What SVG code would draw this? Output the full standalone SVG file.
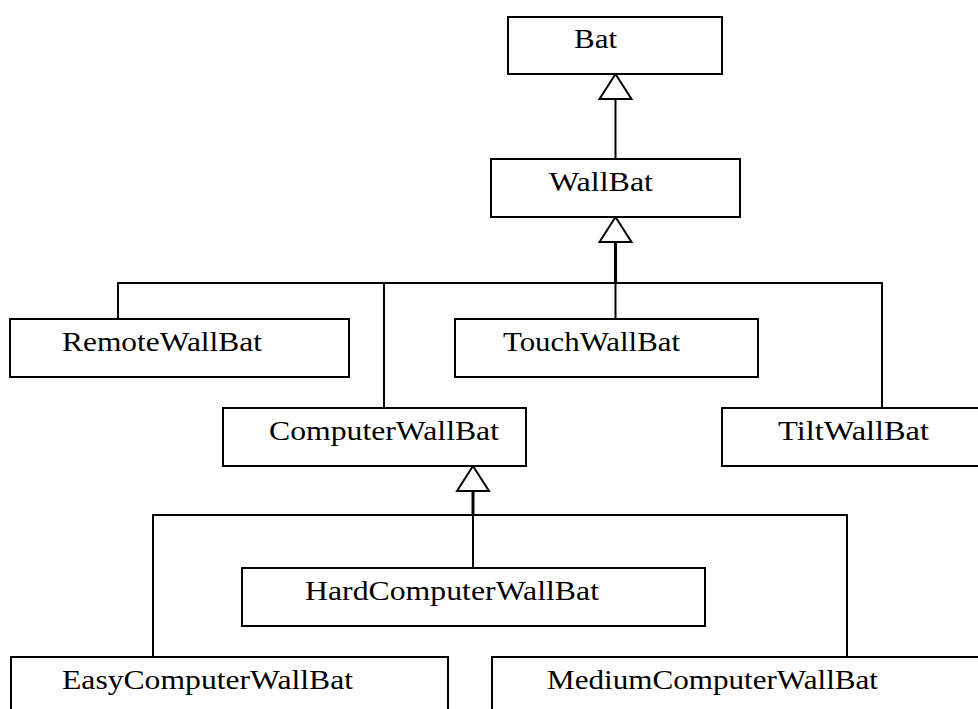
<svg xmlns="http://www.w3.org/2000/svg" width="978" height="709" viewBox="0 0 978 709">
<style>
.box{fill:#fff;stroke:#000;stroke-width:2}
.lbl{font-family:"Liberation Serif","DejaVu Serif",serif;font-size:28px;fill:#000}
.ln{fill:none;stroke:#000;stroke-width:2}
.trunk{fill:none;stroke:#000;stroke-width:3}
.tri{fill:#fff;stroke:#000;stroke-width:2;stroke-linejoin:miter}
</style>
<rect width="978" height="709" fill="#fff"/>
<g id="connectors">
<line class="ln" x1="615.5" y1="99" x2="615.5" y2="159"/>
<polygon class="tri" points="615.5,74 599.5,99 631.5,99"/>
<line class="trunk" x1="615.5" y1="242" x2="615.5" y2="283"/>
<polyline class="ln" points="118,319 118,283 882,283 882,408"/>
<line class="ln" x1="384" y1="283" x2="384" y2="408"/>
<line class="ln" x1="615.5" y1="283" x2="615.5" y2="319"/>
<polygon class="tri" points="615.5,217 599.5,242 631.5,242"/>
<line class="trunk" x1="473" y1="491" x2="473" y2="515"/>
<polyline class="ln" points="153,657 153,515 847,515 847,657"/>
<line class="ln" x1="473" y1="515" x2="473" y2="568"/>
<polygon class="tri" points="473,466 457,491 489,491"/>
</g>
<g id="Bat">
<rect class="box" x="508" y="17" width="214" height="57"/>
<text class="lbl" x="574" y="48" textLength="43" lengthAdjust="spacingAndGlyphs">Bat</text>
</g>
<g id="WallBat">
<rect class="box" x="491" y="159" width="249" height="58"/>
<text class="lbl" x="549" y="191" textLength="104" lengthAdjust="spacingAndGlyphs">WallBat</text>
</g>
<g id="RemoteWallBat">
<rect class="box" x="10" y="319" width="339" height="58"/>
<text class="lbl" x="62" y="351" textLength="200" lengthAdjust="spacingAndGlyphs">RemoteWallBat</text>
</g>
<g id="TouchWallBat">
<rect class="box" x="455" y="319" width="303" height="58"/>
<text class="lbl" x="503" y="351" textLength="177" lengthAdjust="spacingAndGlyphs">TouchWallBat</text>
</g>
<g id="ComputerWallBat">
<rect class="box" x="223" y="408" width="303" height="58"/>
<text class="lbl" x="269" y="440" textLength="230" lengthAdjust="spacingAndGlyphs">ComputerWallBat</text>
</g>
<g id="TiltWallBat">
<rect class="box" x="722" y="408" width="270" height="58"/>
<text class="lbl" x="778" y="440" textLength="151" lengthAdjust="spacingAndGlyphs">TiltWallBat</text>
</g>
<g id="HardComputerWallBat">
<rect class="box" x="242" y="568" width="463" height="58"/>
<text class="lbl" x="305" y="600" textLength="294" lengthAdjust="spacingAndGlyphs">HardComputerWallBat</text>
</g>
<g id="EasyComputerWallBat">
<rect class="box" x="11" y="657" width="437" height="70"/>
<text class="lbl" x="62" y="689" textLength="291" lengthAdjust="spacingAndGlyphs">EasyComputerWallBat</text>
</g>
<g id="MediumComputerWallBat">
<rect class="box" x="492" y="657" width="500" height="70"/>
<text class="lbl" x="547" y="689" textLength="331" lengthAdjust="spacingAndGlyphs">MediumComputerWallBat</text>
</g>
</svg>
